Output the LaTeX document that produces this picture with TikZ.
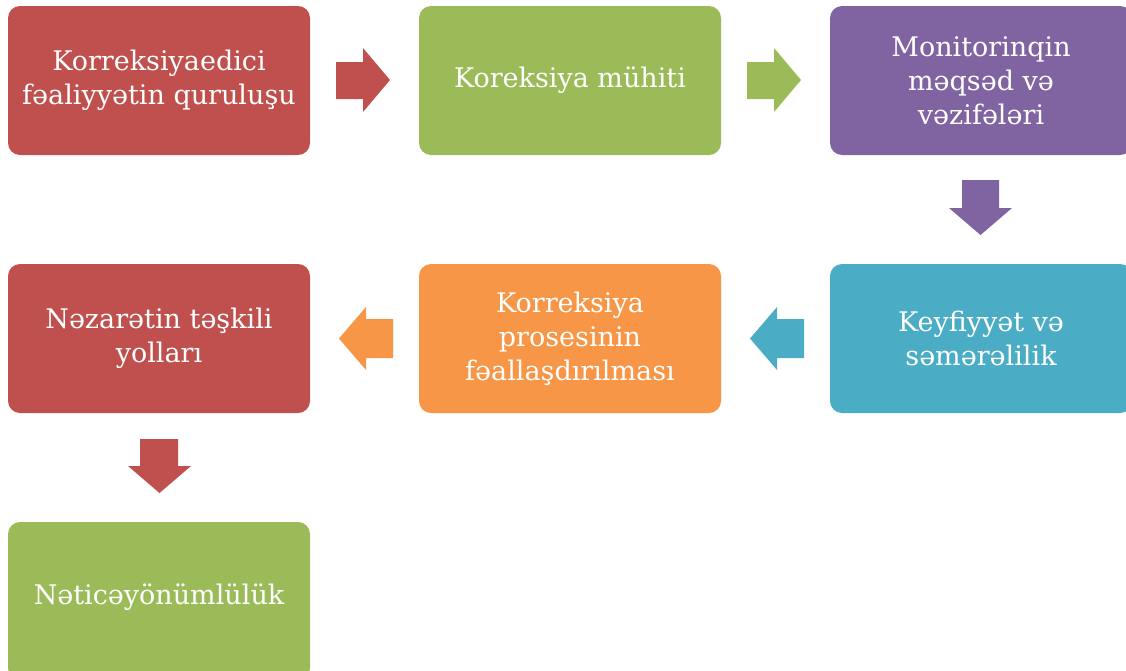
\documentclass[tikz,border=0pt]{standalone}
\usepackage{fontspec}
\setmainfont{DejaVu Serif}
\definecolor{cred}{HTML}{C0504D}
\definecolor{cgreen}{HTML}{9BBB59}
\definecolor{cpurple}{HTML}{8064A2}
\definecolor{cblue}{HTML}{4BACC6}
\definecolor{corange}{HTML}{F79646}
\begin{document}
\begin{tikzpicture}[x=1pt,y=-1pt,
  box/.style={rounded corners=12pt, fill=#1},
  lbl/.style={text=white, align=center, font=\fontsize{27}{34}\selectfont, inner sep=0pt}]
\useasboundingbox (0,0) rectangle (1126,670);
\clip (0,0) rectangle (1126,670);
% boxes
\fill[box=cred] (8,6) rectangle (310,155);
\node[lbl] (b1) at (159,80.5) {Korreksiyaedici\\fəaliyyətin quruluşu};
\fill[box=cgreen] (419,6) rectangle (721,155);
\node[lbl] (b2) at (570,80.5) {Koreksiya mühiti};
\fill[box=cpurple] (830,6) rectangle (1132,155);
\node[lbl] (b3) at (981,80.5) {Monitorinqin\\məqsəd və\\vəzifələri};
\fill[box=cblue] (830,264) rectangle (1132,413);
\node[lbl] (b4) at (981,338.5) {Keyfiyyət və\\səmərəlilik};
\fill[box=corange] (419,264) rectangle (721,413);
\node[lbl] (b5) at (570,338.5) {Korreksiya\\prosesinin\\fəallaşdırılması};
\fill[box=cred] (8,264) rectangle (310,413);
\node[lbl] (b6) at (159,338.5) {Nəzarətin təşkili\\yolları};
\fill[box=cgreen] (8,522) rectangle (310,680);
\node[lbl] (b7) at (159,597) {Nəticəyönümlülük};
% block arrows
\fill[cred] (336,62) -- (363,62) -- (363,48) -- (390,80) -- (363,112) -- (363,99) -- (336,99) -- cycle;
\fill[cgreen] (747,62) -- (774,62) -- (774,48) -- (801,80) -- (774,112) -- (774,99) -- (747,99) -- cycle;
\fill[cpurple] (962,180) -- (999,180) -- (999,208) -- (1012,208) -- (980.5,235) -- (949,208) -- (962,208) -- cycle;
\fill[cblue] (804,319) -- (777,319) -- (777,307) -- (750,338.5) -- (777,370) -- (777,358) -- (804,358) -- cycle;
\fill[corange] (393,319) -- (366,319) -- (366,307) -- (339,338.5) -- (366,370) -- (366,358) -- (393,358) -- cycle;
\fill[cred] (140,439) -- (178,439) -- (178,466) -- (191,466) -- (159.5,493) -- (128,466) -- (140,466) -- cycle;
\end{tikzpicture}
\end{document}
